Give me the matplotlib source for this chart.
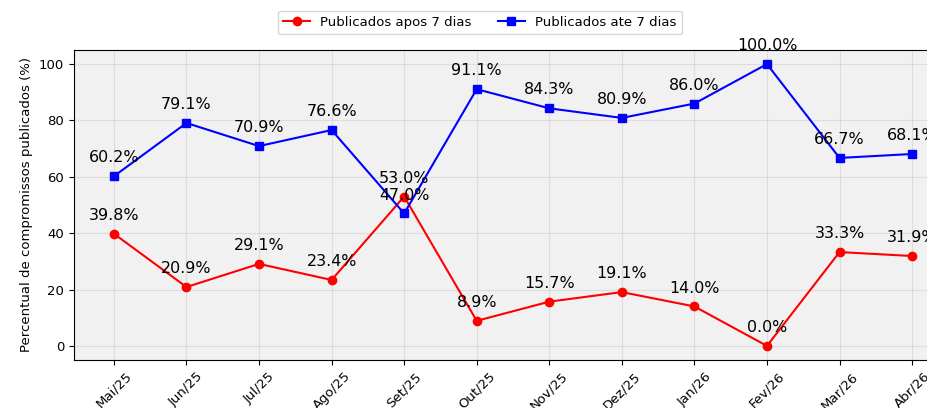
import matplotlib
matplotlib.use("Agg")
import matplotlib.pyplot as plt

meses = ["Mai/25", "Jun/25", "Jul/25", "Ago/25", "Set/25", "Out/25", "Nov/25",
         "Dez/25", "Jan/26", "Fev/26", "Mar/26", "Abr/26"]
apos_7 = [39.8, 20.9, 29.1, 23.4, 53.0, 8.9, 15.7, 19.1, 14.0, 0.0, 33.3, 31.9]
ate_7 = [60.2, 79.1, 70.9, 76.6, 47.0, 91.1, 84.3, 80.9, 86.0, 100.0, 66.7, 68.1]

plt.rcParams["font.size"] = 9.5

fig = plt.figure(figsize=(9.27, 4.08), dpi=100)
W, H = 927, 408
ax = fig.add_axes([74 / W, 1 - 360 / H, (952 - 74) / W, (360 - 50) / H])
ax.set_facecolor("#f1f1f1")

x = list(range(len(meses)))
l1, = ax.plot(x, apos_7, color="red", marker="o", linewidth=1.5, markersize=6,
              label="Publicados apos 7 dias")
l2, = ax.plot(x, ate_7, color="blue", marker="s", linewidth=1.5, markersize=6,
              label="Publicados ate 7 dias")

for xi, v in zip(x, apos_7):
    ax.annotate(f"{v:.1f}%", (xi, v), textcoords="offset points", xytext=(0, 10),
                ha="center", fontsize=11.4)
for xi, v in zip(x, ate_7):
    ax.annotate(f"{v:.1f}%", (xi, v), textcoords="offset points", xytext=(0, 10),
                ha="center", fontsize=11.4)

ax.set_xticks(x)
ax.set_xticklabels(meses, rotation=45)
ax.set_ylabel("Percentual de compromissos publicados (%)")
ax.grid(True, alpha=0.3)
ax.set_ylim(-5, 105)

fig.legend(handles=[l1, l2], loc="upper center", ncol=2,
           bbox_to_anchor=(480 / W, 1 - 4 / H), frameon=True)

fig.savefig("out.png", dpi=100)
